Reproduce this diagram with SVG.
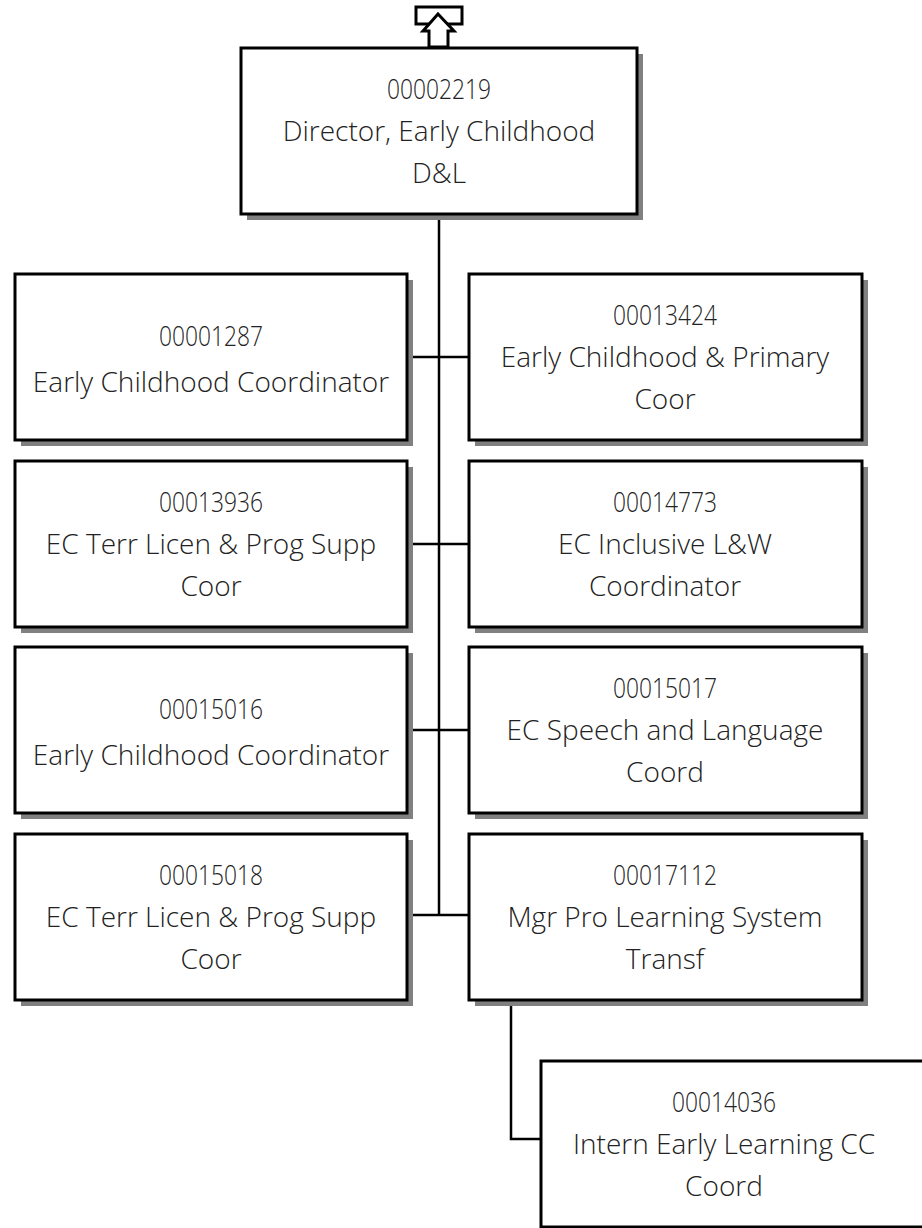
<svg xmlns="http://www.w3.org/2000/svg" width="922" height="1228" viewBox="0 0 922 1228">
<style>
.shadow{fill:#808080;}
.box{fill:#ffffff;stroke:#000000;stroke-width:3;}
.t{font-family:"Open Sans","Liberation Sans",sans-serif;font-weight:300;font-size:28px;fill:#222222;text-anchor:middle;}
.c{fill:none;stroke:#000000;stroke-width:2.5;}
</style>
<rect width="922" height="1228" fill="#ffffff"/>
<g id="connectors">
<line class="c" x1="439" y1="214" x2="439" y2="915"/>
<line class="c" x1="407" y1="357" x2="469" y2="357"/>
<line class="c" x1="407" y1="544" x2="469" y2="544"/>
<line class="c" x1="407" y1="730" x2="469" y2="730"/>
<line class="c" x1="407" y1="915" x2="469" y2="915"/>
<polyline class="c" points="511,1000 511,1139 541,1139"/>
</g>
<g id="up-icon">
<rect x="416" y="7" width="46" height="17" fill="#ffffff" stroke="#000" stroke-width="3"/>
<polygon points="438,14 454,31 448,31 448,47 429,47 429,31 423,31" fill="#ffffff" stroke="#000" stroke-width="3"/>
</g>
<g id="n00002219">
<rect class="shadow" x="247" y="54" width="396" height="166"/>
<rect class="box" x="241" y="48" width="396" height="166"/>
<text class="t" x="439" y="99" textLength="104" lengthAdjust="spacingAndGlyphs">00002219</text>
<text class="t" x="439" y="141">Director, Early Childhood</text>
<text class="t" x="439" y="183">D&amp;L</text>
</g>
<g id="n00001287">
<rect class="shadow" x="21" y="280" width="392" height="166"/>
<rect class="box" x="15" y="274" width="392" height="166"/>
<text class="t" x="211" y="346" textLength="104" lengthAdjust="spacingAndGlyphs">00001287</text>
<text class="t" x="211" y="392">Early Childhood Coordinator</text>
</g>
<g id="n00013424">
<rect class="shadow" x="475" y="280" width="393" height="166"/>
<rect class="box" x="469" y="274" width="393" height="166"/>
<text class="t" x="665" y="325" textLength="104" lengthAdjust="spacingAndGlyphs">00013424</text>
<text class="t" x="665" y="367">Early Childhood &amp; Primary</text>
<text class="t" x="665" y="409">Coor</text>
</g>
<g id="n00013936">
<rect class="shadow" x="21" y="467" width="392" height="166"/>
<rect class="box" x="15" y="461" width="392" height="166"/>
<text class="t" x="211" y="512" textLength="104" lengthAdjust="spacingAndGlyphs">00013936</text>
<text class="t" x="211" y="554">EC Terr Licen &amp; Prog Supp</text>
<text class="t" x="211" y="596">Coor</text>
</g>
<g id="n00014773">
<rect class="shadow" x="475" y="467" width="393" height="166"/>
<rect class="box" x="469" y="461" width="393" height="166"/>
<text class="t" x="665" y="512" textLength="104" lengthAdjust="spacingAndGlyphs">00014773</text>
<text class="t" x="665" y="554">EC Inclusive L&amp;W</text>
<text class="t" x="665" y="596">Coordinator</text>
</g>
<g id="n00015016">
<rect class="shadow" x="21" y="653" width="392" height="166"/>
<rect class="box" x="15" y="647" width="392" height="166"/>
<text class="t" x="211" y="719" textLength="104" lengthAdjust="spacingAndGlyphs">00015016</text>
<text class="t" x="211" y="765">Early Childhood Coordinator</text>
</g>
<g id="n00015017">
<rect class="shadow" x="475" y="653" width="393" height="166"/>
<rect class="box" x="469" y="647" width="393" height="166"/>
<text class="t" x="665" y="698" textLength="104" lengthAdjust="spacingAndGlyphs">00015017</text>
<text class="t" x="665" y="740">EC Speech and Language</text>
<text class="t" x="665" y="782">Coord</text>
</g>
<g id="n00015018">
<rect class="shadow" x="21" y="840" width="392" height="166"/>
<rect class="box" x="15" y="834" width="392" height="166"/>
<text class="t" x="211" y="885" textLength="104" lengthAdjust="spacingAndGlyphs">00015018</text>
<text class="t" x="211" y="927">EC Terr Licen &amp; Prog Supp</text>
<text class="t" x="211" y="969">Coor</text>
</g>
<g id="n00017112">
<rect class="shadow" x="475" y="840" width="393" height="166"/>
<rect class="box" x="469" y="834" width="393" height="166"/>
<text class="t" x="665" y="885" textLength="104" lengthAdjust="spacingAndGlyphs">00017112</text>
<text class="t" x="665" y="927">Mgr Pro Learning System</text>
<text class="t" x="665" y="969">Transf</text>
</g>
<g id="n00014036">
<rect class="box" x="541" y="1061" width="400" height="166"/>
<text class="t" x="724" y="1112" textLength="104" lengthAdjust="spacingAndGlyphs">00014036</text>
<text class="t" x="724" y="1154">Intern Early Learning CC</text>
<text class="t" x="724" y="1196">Coord</text>
</g>
</svg>
